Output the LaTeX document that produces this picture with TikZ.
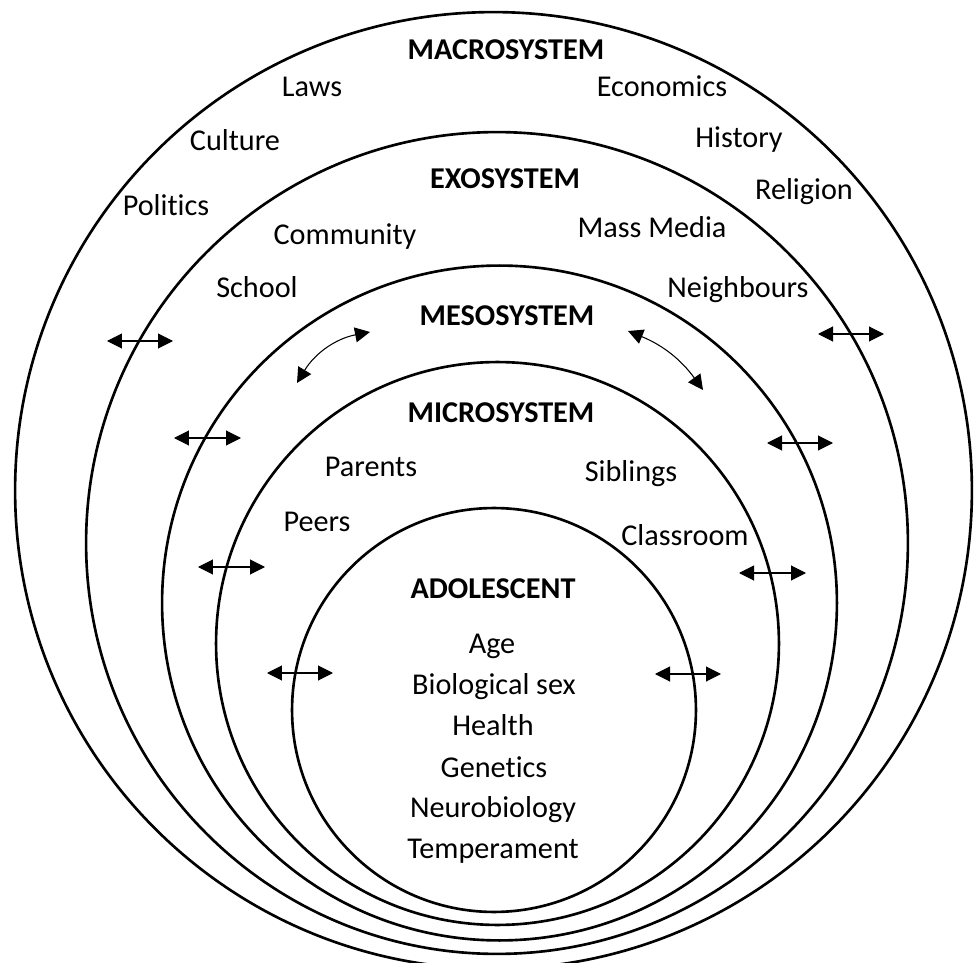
\documentclass[tikz,border=0pt]{standalone}
\usepackage{fontspec}
\setmainfont{Carlito}[Ligatures = NoCommon]
\usetikzlibrary{arrows.meta}
\tikzset{
	ring/.style = {circle, draw, line width = 1.5pt, inner sep = 0pt},
	lbl/.style = {anchor = base, inner sep = 0pt, font = \fontsize{17.2}{20}\selectfont},
	sysname/.style = {lbl, font = \fontsize{17.2}{20}\selectfont\bfseries},
	link/.style = {{Triangle[length=3mm, width=3mm]}-{Triangle[length=3mm, width=3mm]}, line width = 0.6pt}
}
\begin{document}
\begin{tikzpicture}[x = 0.02cm, y = -0.02cm]
		\useasboundingbox (0,0) rectangle (975,963);
		\clip (0,0) rectangle (975,963);
		\node (macro) at (493.5,490.5) [ring, minimum size = 19.14cm] {};
		\node (exo) at (497,543) [ring, minimum size = 16.44cm] {};
		\node (meso) at (499.5,603) [ring, minimum size = 13.5cm] {};
		\node (micro) at (497.5,643.5) [ring, minimum size = 11.26cm] {};
		\node (adol) at (494,710) [ring, minimum size = 8.08cm] {};
		\node (macrot) at (506,60) [sysname] {MACROSYSTEM};
		\node (exot) at (505,189) [sysname] {EXOSYSTEM};
		\node (mesot) at (507,325) [sysname] {MESOSYSTEM};
		\node (microt) at (501,422) [sysname] {MICROSYSTEM};
		\node (adolt) at (493,598) [sysname] {ADOLESCENT};
		\node (laws) at (312,97) [lbl] {Laws};
		\node (economics) at (662,97) [lbl] {Economics};
		\node (culture) at (235,151) [lbl] {Culture};
		\node (history) at (739,148) [lbl] {History};
		\node (politics) at (166,215) [lbl] {Politics};
		\node (religion) at (804,200) [lbl] {Religion};
		\node (community) at (345,245) [lbl] {Community};
		\node (media) at (652,237) [lbl] {Mass Media};
		\node (school) at (257,297) [lbl] {School};
		\node (neighbours) at (738,297) [lbl] {Neighbours};
		\node (parents) at (371,477) [lbl] {Parents};
		\node (siblings) at (631,481) [lbl] {Siblings};
		\node (peers) at (317,531) [lbl] {Peers};
		\node (classroom) at (685,545) [lbl] {Classroom};
		\node (age) at (492,653) [lbl] {Age};
		\node (sex) at (494,694) [lbl] {Biological sex};
		\node (health) at (493,735) [lbl] {Health};
		\node (genetics) at (494,777) [lbl] {Genetics};
		\node (neuro) at (493,817) [lbl] {Neurobiology};
		\node (temper) at (493,858) [lbl] {Temperament};
		\coordinate (l1a) at (107,341);
		\coordinate (l1b) at (173,341);
		\coordinate (l2a) at (174,438);
		\coordinate (l2b) at (241,438);
		\coordinate (l3a) at (198,567);
		\coordinate (l3b) at (265,567);
		\coordinate (l4a) at (267,673);
		\coordinate (l4b) at (333,673);
		\coordinate (r1a) at (818,334);
		\coordinate (r1b) at (884,334);
		\coordinate (r2a) at (767,443);
		\coordinate (r2b) at (833,443);
		\coordinate (r3a) at (739,573);
		\coordinate (r3b) at (806,573);
		\coordinate (r4a) at (655,674);
		\coordinate (r4b) at (721,674);
		\coordinate (cla) at (297,383);
		\coordinate (clb) at (370,332);
		\coordinate (cra) at (628,331);
		\coordinate (crb) at (703,390);
		\draw [link] (l1a) -- (l1b);
		\draw [link] (l2a) -- (l2b);
		\draw [link] (l3a) -- (l3b);
		\draw [link] (l4a) -- (l4b);
		\draw [link] (r1a) -- (r1b);
		\draw [link] (r2a) -- (r2b);
		\draw [link] (r3a) -- (r3b);
		\draw [link] (r4a) -- (r4b);
		\draw [link] (cla) to [bend left = 24] (clb);
		\draw [link] (cra) to [bend left = 16] (crb);
		\end{tikzpicture}
\end{document}
